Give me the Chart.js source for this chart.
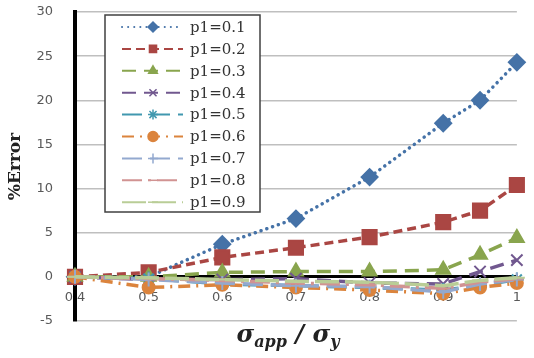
<!DOCTYPE html>
<html>
<head>
<meta charset="utf-8">
<script src="https://cdn.jsdelivr.net/npm/chart.js@4/dist/chart.umd.min.js"></script>
<style>
  html, body { margin: 0; padding: 0; background: #fff; }
  #wrap { width: 534px; height: 358px; }
</style>
</head>
<body>
<div id="wrap"><canvas id="errChart"></canvas></div>
<script>
// sigma_app / sigma_y
const xValues = [0.4, 0.5, 0.6, 0.7, 0.8, 0.9, 0.95, 1];
const seriesNames = ["p1=0.1", "p1=0.2", "p1=0.3", "p1=0.4", "p1=0.5", "p1=0.6", "p1=0.7", "p1=0.8", "p1=0.9"];
// % error per p1
const err01 = [0, 0, 3.7, 6.6, 11.3, 17.4, 20.0, 24.3];
const err02 = [0, 0.5, 2.2, 3.3, 4.5, 6.2, 7.5, 10.4];
const err03 = [0, 0, 0.5, 0.6, 0.6, 0.8, 2.5, 4.4];
const err04 = [0, -0.3, -0.3, -0.2, -0.7, -0.8, 0.6, 1.9];
const err05 = [0, -0.2, -0.8, -1.0, -1.2, -1.5, -1.0, -0.3];
const err06 = [0, -1.2, -0.9, -1.2, -1.5, -1.9, -1.2, -0.7];
const err07 = [0, -0.3, -0.7, -1.0, -1.1, -1.7, -0.8, -0.3];
const err08 = [0, -0.2, -0.4, -0.7, -0.9, -1.3, -0.6, -0.2];
const err09 = [0, -0.1, -0.3, -0.5, -0.6, -1.0, -0.4, -0.1];
const allErrors = [err01, err02, err03, err04, err05, err06, err07, err08, err09];

const colors = ["#4572A7", "#AA4643", "#89A54E", "#71588F", "#4198AF", "#DB843D", "#93A9CF", "#D19392", "#B9CD96"];
const dashes = [[0.1, 6], [9, 5], [14, 8], [14, 8], [20, 8], [12, 6, 2, 6], [20, 8], [20, 6, 3, 6], [24, 6]];
const markers = ["rectRot", "rect", "triangle", "crossRot", "star", "circle", "cross", "line", "line"];
const markerSize = [8, 10, 8, 8, 7, 6, 7, 7, 8];

let datasets = [];
allErrors.forEach((vals, i) => {
  datasets.push({
    label: seriesNames[i],
    data: xValues.map((x, j) => ({ x: x, y: vals[j] })),
    borderColor: colors[i],
    backgroundColor: colors[i],
    borderWidth: 3.5,
    borderDash: dashes[i],
    borderCapStyle: i == 0 ? "round" : "butt",
    pointStyle: markers[i],
    pointRadius: markerSize[i],
    pointBorderWidth: 2,
    showLine: true,
    clip: false,
    order: 9 - i,
  });
});

// legend box drawn on top of the plot
const legendBox = {
  id: "legendBox",
  afterDatasetsDraw(chart) {
    const ctx = chart.ctx;
    ctx.save();
    ctx.fillStyle = "#fff";
    ctx.fillRect(105, 15, 155, 197);
    ctx.strokeStyle = "#404040";
    ctx.lineWidth = 1.5;
    ctx.strokeRect(105, 15, 155, 197);
    chart.data.datasets.forEach((ds, i) => {
      const y = 27 + i * 21.9;
      ctx.setLineDash(ds.borderDash);
      ctx.lineCap = ds.borderCapStyle;
      ctx.strokeStyle = ds.borderColor;
      ctx.lineWidth = 2;
      ctx.beginPath();
      ctx.moveTo(122, y);
      ctx.lineTo(183, y);
      ctx.stroke();
      ctx.setLineDash([]);
      ctx.lineCap = "butt";
      if (Chart.helpers && Chart.helpers.drawPoint) {
        ctx.fillStyle = ds.borderColor;
        ctx.lineWidth = 1.5;
        Chart.helpers.drawPoint(ctx, { pointStyle: ds.pointStyle, radius: 5, rotation: 0, borderWidth: 1.5 }, 153, y);
      }
      ctx.fillStyle = "#333";
      ctx.font = '15px "DejaVu Serif"';
      ctx.textBaseline = "middle";
      ctx.textAlign = "left";
      ctx.fillText(ds.label, 190, y + 1);
    });
    ctx.restore();
  },
};

// x axis title with subscripts
const xTitle = {
  id: "xTitle",
  afterDraw(chart) {
    const ctx = chart.ctx;
    const big = 'bold italic 24px "DejaVu Serif"';
    const small = 'bold italic 16px "DejaVu Serif"';
    const parts = [["σ", big, 0], ["app", small, 5], [" / ", big, 0], ["σ", big, 0], ["y", small, 5]];
    ctx.save();
    let w = 0;
    parts.forEach((p) => { ctx.font = p[1]; w += ctx.measureText(p[0]).width; });
    let x = 288 - w / 2;
    ctx.fillStyle = "#222";
    ctx.textBaseline = "alphabetic";
    parts.forEach((p) => {
      ctx.font = p[1];
      ctx.fillText(p[0], x, 342 + p[2]);
      x += ctx.measureText(p[0]).width;
    });
    ctx.restore();
  },
};

const ctx = document.getElementById("errChart");
const errChart = new Chart(ctx, {
  type: "scatter",
  data: { datasets: datasets },
  plugins: [legendBox, xTitle],
  options: {
    responsive: true,
    maintainAspectRatio: false,
    animation: false,
    devicePixelRatio: 1,
    layout: { padding: { left: 0, top: 12, right: 14, bottom: 37 } },
    plugins: {
      legend: { display: false },
      tooltip: { enabled: false },
    },
    scales: {
      x: {
        type: "linear",
        position: { y: 0 },
        min: 0.4,
        max: 1,
        afterFit: (s) => { s.height = 0; },
        grid: { display: false, drawTicks: false },
        border: { display: true, color: "#000", width: 3 },
        ticks: {
          stepSize: 0.1,
          padding: 13,
          color: "#595959",
          font: { family: "DejaVu Sans", size: 13 },
          callback: (v) => String(+v.toFixed(1)),
        },
      },
      y: {
        min: -5,
        max: 30,
        afterFit: (s) => { s.width = 75; s.paddingTop = 6; s.paddingBottom = 6; },
        grid: { color: "#bfbfbf", lineWidth: 1.5, drawTicks: false },
        border: { display: true, color: "#000", width: 4 },
        ticks: {
          stepSize: 5,
          padding: 22,
          color: "#595959",
          font: { family: "DejaVu Sans", size: 13 },
        },
        title: {
          display: true,
          text: "%Error",
          color: "#222",
          padding: { top: 5, bottom: 0 },
          font: { family: "DejaVu Serif", weight: "bold", size: 17 },
        },
      },
    },
  },
});
</script>
</body>
</html>
